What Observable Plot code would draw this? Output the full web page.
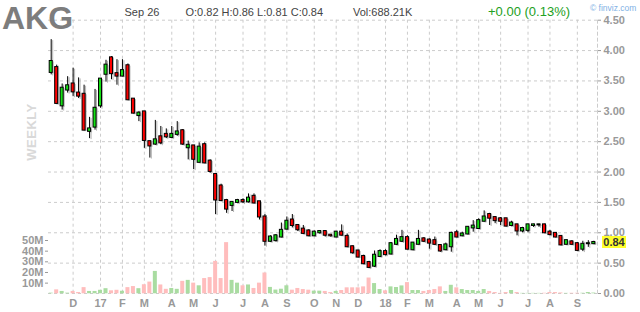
<!DOCTYPE html>
<html><head><meta charset="utf-8">
<script src="https://cdn.jsdelivr.net/npm/d3@7"></script>
<script src="https://cdn.jsdelivr.net/npm/@observablehq/plot@0.6"></script>
<style>
html,body{margin:0;padding:0;background:#fff;}
#c{position:relative;width:640px;height:312px;overflow:hidden;font-family:"Liberation Sans",Arial,sans-serif;}
#c svg{position:absolute;left:0;top:0;}
.t{position:absolute;white-space:nowrap;line-height:1;}
</style></head><body><div id="c"></div>
<script>
const ticker = "AKG";
const headerDate = "Sep 26";
const headerOHLC = "O:0.82 H:0.86 L:0.81 C:0.84";
const headerVol = "Vol:688.21K";
const headerChange = "+0.00 (0.13%)";
const brand = "\u00a9 finviz.com";
const periodLabel = "WEEKLY";

const openP  = [3.64,3.72,3.09,3.35,3.45,3.30,3.28,2.67,2.74,3.09, 3.61,3.88,3.62,3.58,3.75,3.20,2.93,2.99,2.50,2.46, 2.58,2.62,2.57,2.62,2.68,2.40,2.43,2.16,2.45,2.18, 1.96,1.77,1.53,1.45,1.50,1.53,1.51,1.60,1.51,1.26, 0.86,0.87,0.93,1.06,1.21,1.12,1.06,1.03,0.95,1.00, 1.02,0.96,0.93,1.01,0.94,0.77,0.70,0.61,0.51,0.45, 0.61,0.69,0.65,0.81,0.86,0.92,0.72,0.81,0.90,0.88, 0.87,0.79,0.72,0.77,1.00,0.95,0.98,1.08,1.07,1.19, 1.30,1.25,1.23,1.23,1.12,1.13,1.03,1.04,1.12,1.13, 1.13,1.01,0.99,0.94,0.81,0.85,0.82,0.73,0.82,0.82];
const highP  = [4.18,3.76,3.45,3.57,3.71,3.55,3.43,2.90,3.36,3.53, 3.84,3.90,3.85,3.85,3.78,3.20,2.99,2.99,2.50,2.85, 2.75,2.71,2.75,2.83,2.70,2.51,2.43,2.48,2.48,2.20, 1.96,1.80,1.55,1.50,1.55,1.56,1.64,1.64,1.51,1.30, 0.95,0.97,1.16,1.26,1.30,1.13,1.12,1.05,1.03,1.03, 1.03,0.97,1.02,1.13,0.98,0.78,0.71,0.63,0.53,0.70, 0.72,0.72,0.84,0.96,1.04,0.95,0.84,1.04,0.92,0.90, 0.93,0.79,0.83,1.01,1.04,1.01,1.10,1.20,1.23,1.36, 1.32,1.26,1.25,1.23,1.19,1.14,1.09,1.14,1.14,1.14, 1.14,1.04,1.00,0.94,0.88,0.87,0.84,0.86,0.87,0.86];
const lowP   = [3.60,3.12,3.02,3.30,3.24,3.21,2.69,2.55,2.69,3.05, 3.48,3.52,3.43,3.57,3.19,2.96,2.83,2.39,2.23,2.44, 2.45,2.55,2.55,2.59,2.44,2.20,2.04,2.15,2.15,1.98, 1.30,1.52,1.32,1.35,1.48,1.48,1.49,1.48,1.21,0.78, 0.84,0.85,0.92,1.05,1.08,1.02,0.97,0.94,0.94,0.98, 0.93,0.93,0.93,0.95,0.76,0.65,0.59,0.48,0.41,0.43, 0.60,0.62,0.64,0.79,0.84,0.72,0.71,0.81,0.84,0.73, 0.79,0.68,0.71,0.68,0.92,0.94,0.97,1.01,1.06,1.18, 1.12,1.15,1.12,1.10,1.10,0.95,1.00,1.00,1.09,1.09, 0.99,0.95,0.92,0.79,0.80,0.80,0.69,0.69,0.76,0.81];
const closeP = [3.82,3.13,3.38,3.42,3.32,3.25,2.69,2.71,3.05,3.53, 3.76,3.62,3.58,3.67,3.19,2.97,2.97,2.52,2.43,2.53, 2.48,2.58,2.62,2.66,2.46,2.44,2.21,2.41,2.15,2.01, 1.54,1.53,1.39,1.50,1.53,1.51,1.57,1.49,1.26,0.86, 0.93,0.95,1.04,1.19,1.12,1.05,0.99,0.95,1.01,1.02, 0.96,0.95,1.01,0.96,0.77,0.67,0.60,0.49,0.43,0.63, 0.69,0.64,0.82,0.89,0.92,0.73,0.83,0.89,0.86,0.83, 0.81,0.70,0.80,0.99,0.93,0.98,1.09,1.11,1.20,1.26, 1.24,1.20,1.19,1.11,1.16,1.03,1.07,1.13,1.13,1.13, 1.00,0.97,0.93,0.80,0.87,0.81,0.71,0.81,0.82,0.84];
const volumeM = [0.6,3.7,2.2,0.6,2.2,1.2,5.8,2.2,2.2,3.3, 4.8,2.8,3.3,2.4,5.8,6.8,4.8,8.5,11,21, 8.3,4.2,5,4.2,11.7,12.6,10,7.5,14.3,15.2, 30.4,14.3,48,12.6,10,7.5,8.3,5,10,19.5, 6,3.5,4.3,7.5,3.4,5,4,3.4,2.5,2.5, 2.2,1.2,2.2,3.1,5.6,5.6,5.6,6.5,14.8,9.6, 4,2.8,6.5,5.9,7.4,10.5,3.1,3.1,2.2,3.1, 4,6.5,2.2,8,5.6,4,3.1,3.1,2.2,4, 2.2,1.2,0.4,1.2,3.1,1.2,0.4,0.4,0.4,0.4, 0.5,1.2,1.2,0.8,0.4,0.5,0.5,0.5,1.2,0.69];

const priceTicks = [0,0.5,1,1.5,2,2.5,3,3.5,4,4.5];
const volumeTicks = [10,20,30,40,50];
const monthTickDates = ["2016-11-28","2017-01-02","2017-01-30","2017-02-27","2017-04-03","2017-05-01","2017-05-29","2017-07-03","2017-07-31","2017-08-28","2017-10-02","2017-10-30","2017-11-27","2018-01-01","2018-01-29","2018-02-26","2018-04-02","2018-04-30","2018-05-28","2018-07-02","2018-07-30","2018-09-03"];
const monthLabels = ["D","17","F","M","A","M","J","J","A","S","O","N","D","18","F","M","A","M","J","J","A","S"];

const weeks = d3.utcMonday.range(new Date(Date.UTC(2016,9,31)), new Date(Date.UTC(2018,8,25)));
const rows = weeks.map((date,i)=>({date, open:openP[i], high:highP[i], low:lowP[i], close:closeP[i], volume:volumeM[i], up: closeP[i] >= openP[i]}));
const monthTicks = monthTickDates.map(s => new Date(s));
const labelByTime = new Map(monthTicks.map((d,i)=>[+d, monthLabels[i]]));

const xScale = {type:"utc", domain:[weeks[0], weeks[weeks.length-1]], range:[50.7,593.3]};
const common = {width:640, height:312, marginLeft:48, marginRight:43, marginTop:19.7, marginBottom:19,
  color:{type:"identity"},
  style:{background:"transparent", fontFamily:"Liberation Sans, Arial, sans-serif", fontSize:"11px", overflow:"visible"}};
const gridStyle = {stroke:"#cccccc", strokeDasharray:"3,3"};
const UP = "#14e014", DOWN = "#ff0000";

const pricePlot = Plot.plot({...common, x:xScale, y:{domain:[0,4.5]}, marks:[
  Plot.ruleY(priceTicks, gridStyle),
  Plot.ruleX(monthTicks, gridStyle),
  Plot.frame({anchor:"right", ...gridStyle}),
  Plot.axisY({anchor:"right", ticks:priceTicks, tickFormat:d3.format(".2f"), tickSize:3, tickPadding:3, color:"#999", fontWeight:"bold", label:null}),
  Plot.axisX({ticks:monthTicks, tickFormat:d=>labelByTime.get(+d), tickSize:0, tickPadding:6, color:"#999", fontWeight:"bold", label:null}),
  Plot.ruleX(rows, {x:"date", y1:"low", y2:"high", stroke:"#b5b5b5", dx:1.5, dy:1}),
  Plot.rect(rows, {x1:"date", x2:"date", y1:"open", y2:"close", insetLeft:-1.5, insetRight:-1.5, insetTop:-0.5, insetBottom:-0.5, fill:"#b5b5b5", dx:1.5, dy:1}),
  Plot.ruleX(rows, {x:"date", y1:"low", y2:"high", stroke:"#000"}),
  Plot.rect(rows, {x1:"date", x2:"date", y1:"open", y2:"close", insetLeft:-1.5, insetRight:-1.5, insetTop:-0.5, insetBottom:-0.5, fill:d=>d.up?UP:DOWN, stroke:"#000", strokeWidth:1})
]});

const volPlot = Plot.plot({...common, x:{...xScale, axis:null}, y:{domain:[0,50], range:[293.3,240]}, marks:[
  Plot.rect(rows, {x1:"date", x2:"date", y1:0, y2:"volume", insetLeft:-2, insetRight:-2, fill:d=>d.up?"#a9dca1":"#ffbdbd"}),
  Plot.axisY({anchor:"left", ticks:volumeTicks, tickFormat:d=>d+"M", tickSize:3, tickPadding:2, color:"#999", fontWeight:"bold", label:null})
]});

const c = document.getElementById("c");
c.appendChild(pricePlot);
c.appendChild(volPlot);

function addText(txt, left, top, css){
  const d = document.createElement("div");
  d.className = "t"; d.textContent = txt;
  d.style.left = left + "px"; d.style.top = top + "px";
  Object.assign(d.style, css || {});
  c.appendChild(d); return d;
}
addText(ticker, 2, 1.5, {fontSize:"32px", fontWeight:"bold", color:"#7d7d7d"});
addText(headerDate, 124.5, 6.5, {fontSize:"11px", color:"#444"});
addText(headerOHLC, 185.5, 6.5, {fontSize:"11px", color:"#444"});
addText(headerVol, 353, 6.5, {fontSize:"11px", color:"#444"});
addText(headerChange, 488, 5, {fontSize:"13px", color:"#22a022"});
addText(brand, 590, 3.5, {fontSize:"8.5px", color:"#7fb2e5"});
addText(periodLabel, 30.5, 131.5, {fontSize:"13px", fontWeight:"bold", color:"#d9d9d9", transform:"translate(-50%,-50%) rotate(-90deg)", letterSpacing:"0.5px"});

const lastClose = closeP[closeP.length-1];
const yLast = pricePlot.scale("y").apply(lastClose);
addText(d3.format(".2f")(lastClose), 602, yLast - 5.5, {fontSize:"11px", fontWeight:"bold", color:"#333", background:"#ffff2a", width:"24px", height:"12px", lineHeight:"12px", textAlign:"center"});
</script></body></html>
